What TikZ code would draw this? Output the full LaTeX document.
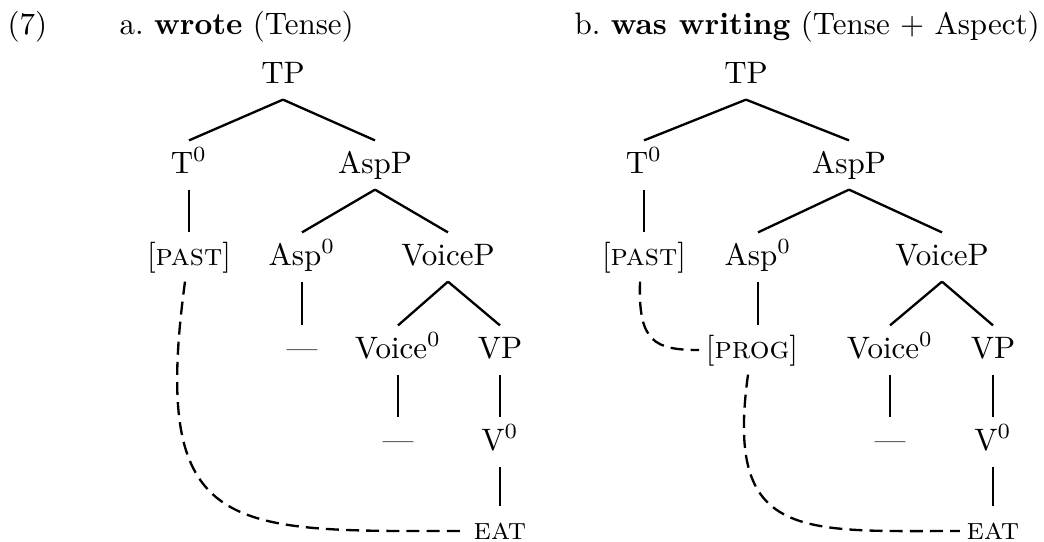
\documentclass[tikz,border=0pt]{standalone}
\usetikzlibrary{calc}
\newlength\pxu
\setlength\pxu{0.32258pt}
\begin{document}
\begin{tikzpicture}[x=\pxu,y=-\pxu,
  lab/.style={anchor=base, inner ysep=0pt, inner xsep=2pt, text height=32\pxu, text depth=16\pxu},
  leaf/.style={lab, text depth=0pt},
  ttl/.style={anchor=base west, inner sep=0pt},
  branch/.style={line width=0.75pt},
  mov/.style={line width=0.75pt, dash pattern=on 4.2pt off 2.3pt}]
\useasboundingbox (0,0) rectangle (1044,541);
% titles
\node[ttl] (ex) at (7,34) {(7)};
\node[ttl] (ta) at (119,34) {a.\ \textbf{wrote} (Tense)};
\node[ttl] (tb) at (574,34) {b.\ \textbf{was writing} (Tense + Aspect)};
% tree a
\node[lab] (TPa) at (283,83) {TP};
\node[lab] (T0a) at (189,173) {T$^0$};
\node[lab] (AspPa) at (375,173) {AspP};
\node[lab] (PASTa) at (189,265) {[\textsc{past}]};
\node[lab] (Asp0a) at (302,265) {Asp$^0$};
\node[lab] (VoicePa) at (448,265) {VoiceP};
\node[lab] (DAa) at (302,358) {---};
\node[lab] (Voice0a) at (398,358) {Voice$^0$};
\node[lab] (VPa) at (500,358) {VP};
\node[lab] (DBa) at (398,450) {---};
\node[lab] (V0a) at (500,450) {V$^0$};
\node[leaf] (EATa) at (500,539) {\textsc{eat}};
\draw[branch] (TPa.south) -- (T0a.north);
\draw[branch] (TPa.south) -- (AspPa.north);
\draw[branch] (T0a.south) -- (PASTa.north);
\draw[branch] (AspPa.south) -- (Asp0a.north);
\draw[branch] (AspPa.south) -- (VoicePa.north);
\draw[branch] (Asp0a.south) -- (DAa.north);
\draw[branch] (VoicePa.south) -- (Voice0a.north);
\draw[branch] (VoicePa.south) -- (VPa.north);
\draw[branch] (Voice0a.south) -- (DBa.north);
\draw[branch] (VPa.south) -- (V0a.north);
\draw[branch] (V0a.south) -- (EATa.north);
\draw[mov] ($(PASTa.south)+(-4,0)$) .. controls +(-35,258) and +(-237,0) .. ($(EATa.base west)+(0,-8)$);
% tree b
\node[lab] (TPb) at (746,83) {TP};
\node[lab] (T0b) at (644,173) {T$^0$};
\node[lab] (AspPb) at (849,173) {AspP};
\node[lab] (PASTb) at (644,265) {[\textsc{past}]};
\node[lab] (Asp0b) at (758,265) {Asp$^0$};
\node[lab] (VoicePb) at (942,265) {VoiceP};
\node[lab] (PROGb) at (752,358) {[\textsc{prog}]};
\node[lab] (Voice0b) at (890,358) {Voice$^0$};
\node[lab] (VPb) at (993,358) {VP};
\node[lab] (DBb) at (890,450) {---};
\node[lab] (V0b) at (993,450) {V$^0$};
\node[leaf] (EATb) at (993,539) {\textsc{eat}};
\draw[branch] (TPb.south) -- (T0b.north);
\draw[branch] (TPb.south) -- (AspPb.north);
\draw[branch] (T0b.south) -- (PASTb.north);
\draw[branch] (AspPb.south) -- (Asp0b.north);
\draw[branch] (AspPb.south) -- (VoicePb.north);
\draw[branch] (Asp0b.south) -- (Asp0b.south |- PROGb.north);
\draw[branch] (VoicePb.south) -- (Voice0b.north);
\draw[branch] (VoicePb.south) -- (VPb.north);
\draw[branch] (Voice0b.south) -- (DBb.north);
\draw[branch] (VPb.south) -- (V0b.north);
\draw[branch] (V0b.south) -- (EATb.north);
\draw[mov] ($(PASTb.south)+(-4,0)$) .. controls +(-2,60) and +(-45,0) .. (PROGb.west);
\draw[mov] ($(PROGb.south)+(-4,0)$) .. controls +(-23,166) and +(-160,0) .. ($(EATb.base west)+(0,-8)$);
\end{tikzpicture}
\end{document}
